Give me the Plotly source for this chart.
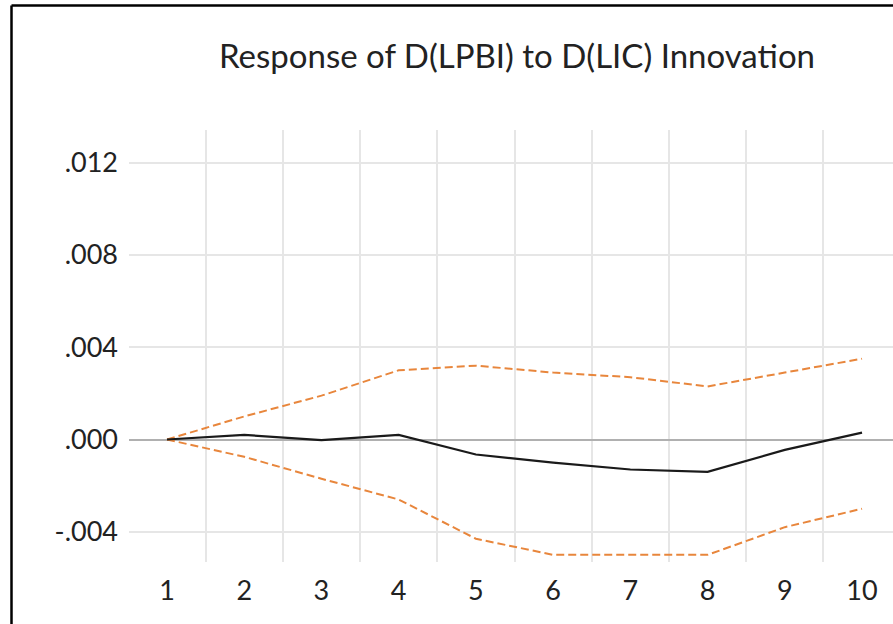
import plotly.graph_objects as go

periods = [1, 2, 3, 4, 5, 6, 7, 8, 9, 10]
response = [0.0, 0.0002, -0.00003, 0.0002, -0.00065, -0.0010, -0.0013, -0.0014, -0.00045, 0.0003]
upper = [0.0, 0.0010, 0.0019, 0.0030, 0.0032, 0.0029, 0.0027, 0.0023, 0.0029, 0.0035]
lower = [0.0, -0.00075, -0.0017, -0.0026, -0.0043, -0.0050, -0.0050, -0.0050, -0.0038, -0.0030]
y_ticks = [-0.004, 0.0, 0.004, 0.008, 0.012]
y_labels = ["-.004", ".000", ".004", ".008", ".012"]
title_text = "Response of D(LPBI) to D(LIC) Innovation"

FONT = "Lato, Open Sans, sans-serif"
ORANGE = "#E8863C"

W, H = 893, 624
L, R, T, B = 129, 0, 130, 62
pw, ph = W - L - R, H - T - B

def px_x(p):
    return (p - L) / pw

def px_y(p):
    return (H - B - p) / ph

fig = go.Figure()
fig.add_trace(go.Scatter(x=periods, y=upper, mode="lines",
                         line=dict(color=ORANGE, width=2, dash="8px,4px"),
                         showlegend=False, hoverinfo="skip"))
fig.add_trace(go.Scatter(x=periods, y=lower, mode="lines",
                         line=dict(color=ORANGE, width=2, dash="8px,4px"),
                         showlegend=False, hoverinfo="skip"))
fig.add_trace(go.Scatter(x=periods, y=response, mode="lines",
                         line=dict(color="#1a1a1a", width=2.2),
                         showlegend=False, hoverinfo="skip"))

fig.update_layout(
    width=W, height=H,
    margin=dict(l=L, r=R, t=T, b=B, pad=0),
    paper_bgcolor="white", plot_bgcolor="white",
    font=dict(family=FONT, color="#222222"),
    title=dict(text=title_text, x=517 / W, xref="container", xanchor="center",
               y=1 - 56 / H, yref="container", yanchor="middle",
               font=dict(size=33, family=FONT, color="#222222")),
    xaxis=dict(range=[0.508, 10.401], tickmode="array", tickvals=periods,
               ticktext=[str(p) for p in periods], showgrid=False,
               zeroline=False, showline=False, ticks="", ticklabelstandoff=10,
               tickfont=dict(size=27, family=FONT, color="#222222"),
               minor=dict(tickvals=[p + 0.5 for p in periods[:-1]], showgrid=True,
                          gridcolor="#E6E6E6", gridwidth=2, ticks="")),
    yaxis=dict(range=[-0.005309, 0.013413], tickmode="array", tickvals=y_ticks,
               ticktext=y_labels, showgrid=True, gridcolor="#E6E6E6", gridwidth=2,
               zeroline=True, zerolinecolor="#B0B0B0", zerolinewidth=2,
               showline=False, ticks="", ticklabelstandoff=10,
               tickfont=dict(size=27, family=FONT, color="#222222")),
)

# outer frame (left and top black border)
fig.add_shape(type="line", xref="paper", yref="paper",
              x0=px_x(11.5), x1=px_x(11.5), y0=px_y(H + 5), y1=px_y(5.5),
              line=dict(color="black", width=2.5), layer="above")
fig.add_shape(type="line", xref="paper", yref="paper",
              x0=px_x(11.5), x1=px_x(W + 5), y0=px_y(5.5), y1=px_y(5.5),
              line=dict(color="black", width=2.5), layer="above")

fig.write_html("out.html", config={"displayModeBar": False},
               post_script="document.body.style.margin='0';document.body.style.overflow='hidden';")
